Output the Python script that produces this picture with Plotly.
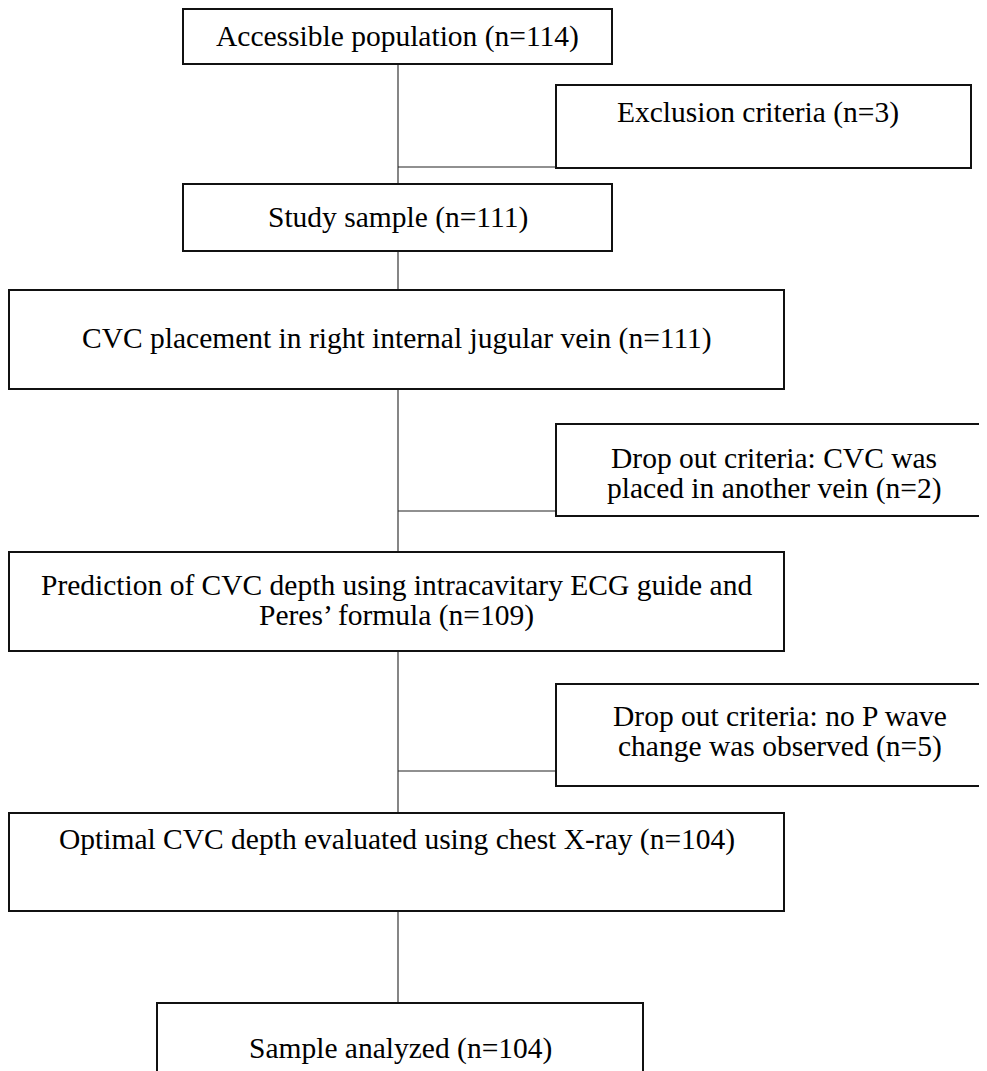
import plotly.graph_objects as go

# ---- data (flow stages and counts) ----
main_stages = [
    ["Accessible population"],
    ["Study sample"],
    ["CVC placement in right internal jugular vein"],
    ["Prediction of CVC depth using intracavitary ECG guide and", "Peres\u2019 formula"],
    ["Optimal CVC depth evaluated using chest X-ray"],
    ["Sample analyzed"],
]
main_n = [114, 111, 111, 109, 104, 104]

side_stages = [
    ["Exclusion criteria"],
    ["Drop out criteria: CVC was", "placed in another vein"],
    ["Drop out criteria: no P wave", "change was observed"],
]
side_n = [3, 2, 5]

# ---- layout geometry (pixels, y downward) ----
W, H = 987, 1071
OFF = 8  # page body margin compensation
SPINE_X = 398
main_boxes = [  # x0, x1, y0, y1
    (183, 612, 9, 64),
    (183, 612, 184, 251),
    (9, 784, 290, 389),
    (9, 784, 552, 651),
    (9, 784, 813, 911),
    (157, 643, 1003, 1090),
]
main_text_y = [[36], [217], [338], [585, 615], [839], [1048]]
side_boxes = [
    (556, 971, 85, 168),
    (556, 995, 424, 516),
    (556, 995, 684, 786),
]
side_text_y = [[112], [458, 488], [716, 746]]
side_text_x = [758, 774, 780]
branch_y = [167, 511, 771]

FONT = dict(family="Liberation Serif, Times New Roman, serif", size=29.5, color="black")

fig = go.Figure()
shapes = []
annotations = []

def add_box(b):
    x0, x1, y0, y1 = b
    shapes.append(dict(type="rect", xref="x", yref="y", x0=x0, x1=x1, y0=y0, y1=y1,
                       line=dict(color="#111111", width=2), fillcolor="rgba(0,0,0,0)"))

def add_line(x0, y0, x1, y1):
    shapes.append(dict(type="line", xref="x", yref="y", x0=x0, x1=x1, y0=y0, y1=y1,
                       line=dict(color="#222222", width=1.1)))

# connectors along spine
for i in range(len(main_boxes) - 1):
    add_line(SPINE_X, main_boxes[i][3], SPINE_X, main_boxes[i + 1][2])
# branches
for by, sb in zip(branch_y, side_boxes):
    add_line(SPINE_X, by, sb[0], by)

for i, b in enumerate(main_boxes):
    add_box(b)
    lines = list(main_stages[i])
    lines[-1] = f"{lines[-1]} (n={main_n[i]})"
    cx = (b[0] + b[1]) / 2
    for t, y in zip(lines, main_text_y[i]):
        annotations.append(dict(x=cx, y=y, xref="x", yref="y", text=t, showarrow=False,
                                font=FONT, xanchor="center", yanchor="middle"))

for i, b in enumerate(side_boxes):
    add_box(b)
    lines = list(side_stages[i])
    lines[-1] = f"{lines[-1]} (n={side_n[i]})"
    for t, y in zip(lines, side_text_y[i]):
        annotations.append(dict(x=side_text_x[i], y=y, xref="x", yref="y", text=t, showarrow=False,
                                font=FONT, xanchor="center", yanchor="middle"))

fig.update_layout(
    width=W, height=H,
    margin=dict(l=0, r=0, t=0, b=0),
    paper_bgcolor="white", plot_bgcolor="white",
    xaxis=dict(range=[OFF, W + OFF], visible=False, fixedrange=True),
    yaxis=dict(range=[H + OFF, OFF], visible=False, fixedrange=True),
    shapes=shapes, annotations=annotations, showlegend=False,
)

fig.write_html("out.html")
